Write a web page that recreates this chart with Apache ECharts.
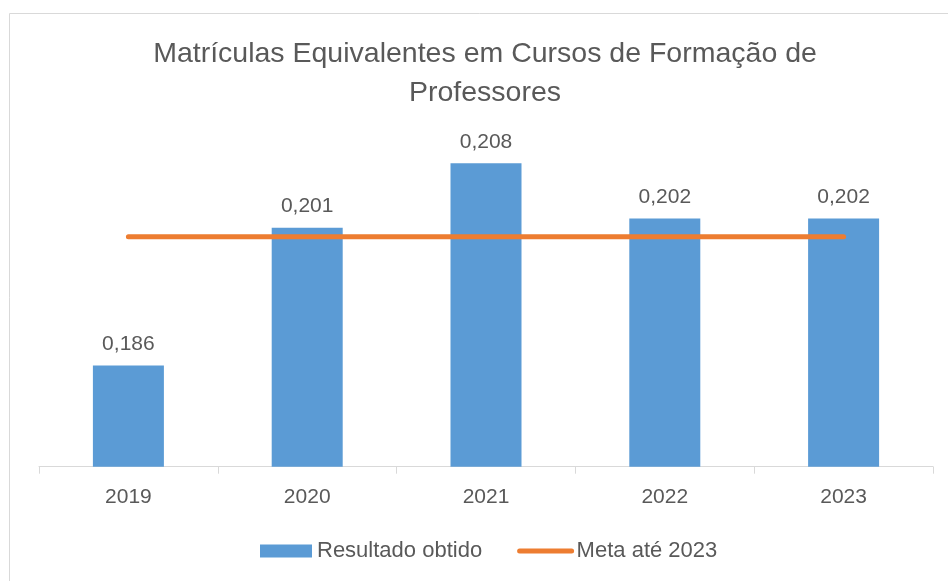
<!DOCTYPE html>
<html>
<head>
<meta charset="utf-8">
<script src="https://cdn.jsdelivr.net/npm/echarts@6/dist/echarts.min.js"></script>
<style>
  * { margin: 0; padding: 0; }
  #chart { width: 948px; height: 581px; background: #fff; }
</style>
</head>
<body>
<div id="chart"></div>
<script>
// dados
var anos = ['2019', '2020', '2021', '2022', '2023'];
var resultado = [0.186, 0.201, 0.208, 0.202, 0.202];
var meta = [0.2, 0.2, 0.2, 0.2, 0.2];

var fonte = '"Liberation Sans", Arial, sans-serif';
var cinza = '#595959';

var myChart = echarts.init(document.getElementById('chart'));
myChart.setOption({
  animation: false,
  textStyle: { fontFamily: fonte },
  graphic: [
    {
      type: 'rect',
      shape: { x: 9.5, y: 13.5, width: 960, height: 600 },
      style: { fill: 'none', stroke: '#D9D9D9', lineWidth: 1 },
      silent: true
    },
    {
      // título
      type: 'text',
      x: 485,
      y: 35,
      silent: true,
      style: {
        text: 'Matrículas Equivalentes em Cursos de Formação de\nProfessores',
        align: 'center',
        verticalAlign: 'top',
        fontFamily: fonte,
        fontSize: 28.5,
        lineHeight: 39,
        fill: cinza
      }
    }
  ],
  legend: {
    left: 260,
    top: 540,
    padding: 0,
    itemWidth: 52,
    itemHeight: 13,
    itemGap: 35,
    textStyle: { fontFamily: fonte, fontSize: 22, color: cinza },
    data: [
      { name: 'Resultado obtido', icon: 'rect' },
      {
        name: 'Meta até 2023',
        lineStyle: { width: 5, color: '#ED7D31', cap: 'round' },
        itemStyle: { color: 'rgba(0,0,0,0)', borderWidth: 0 }
      }
    ]
  },
  grid: {
    left: 39,
    right: 15,
    top: 144.9,
    bottom: 114.3
  },
  xAxis: {
    type: 'category',
    data: anos,
    axisLine: { lineStyle: { color: '#D9D9D9', width: 1 } },
    axisTick: { show: true, length: 7, lineStyle: { color: '#D9D9D9' } },
    axisLabel: { margin: 20, fontSize: 21, color: cinza, fontFamily: fonte }
  },
  yAxis: {
    type: 'value',
    min: 0.175,
    max: 0.21,
    show: false,
    splitLine: { show: false }
  },
  series: [
    {
      name: 'Resultado obtido',
      type: 'bar',
      data: resultado,
      barWidth: 71,
      itemStyle: { color: '#5B9BD5' },
      label: {
        show: true,
        position: 'top',
        distance: 11,
        fontSize: 21,
        color: cinza,
        fontFamily: fonte,
        formatter: function (p) { return p.value.toFixed(3).replace('.', ','); }
      }
    },
    {
      name: 'Meta até 2023',
      type: 'line',
      data: meta,
      symbol: 'none',
      lineStyle: { color: '#ED7D31', width: 5, cap: 'round' },
      itemStyle: { color: '#ED7D31' },
      z: 3
    }
  ]
});
</script>
</body>
</html>
